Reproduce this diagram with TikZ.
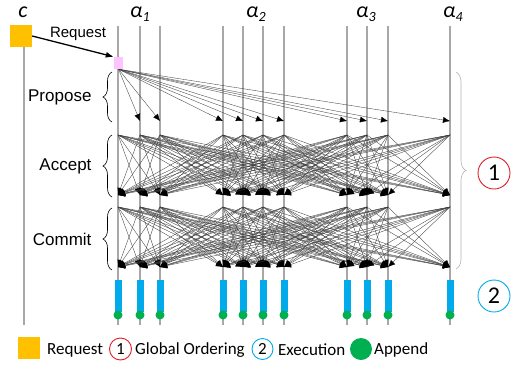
\documentclass[tikz,border=0pt]{standalone}
\usepackage{fontspec}
\setmainfont{Liberation Sans}
\newfontfamily\calib{Carlito}
\usetikzlibrary{arrows.meta,decorations.pathreplacing}
\definecolor{reqorange}{RGB}{255,192,0}
\definecolor{tlgray}{RGB}{172,167,167}
\definecolor{execblue}{RGB}{0,170,235}
\definecolor{appgreen}{RGB}{0,176,80}
\definecolor{ordred}{RGB}{225,30,40}
\definecolor{proppink}{RGB}{255,196,255}
\tikzset{
  timeline/.style={draw=tlgray,line width=2.6pt},
  msg/.style={draw=black!75,line width=0.35pt,-{Latex[length=7pt,width=6pt,black]}},
  execbar/.style={rectangle,fill=execblue,inner sep=0pt,minimum width=7pt,minimum height=32pt},
  appdot/.style={circle,fill=appgreen,inner sep=0pt,minimum size=9pt},
  phase/.style={anchor=east,font=\fontsize{17}{20}\selectfont},
  lbrace/.style={decorate,decoration={brace,amplitude=9pt},line width=0.6pt},
  stepcircle/.style={circle,draw,line width=0.9pt,inner sep=0pt},
  legtext/.style={anchor=west,inner sep=0pt,font=\calib\fontsize{17}{20}\selectfont}
}
\begin{document}
\begin{tikzpicture}[x=1pt,y=-1pt]
\useasboundingbox (0,0) rectangle (515,368);
\draw[timeline] (24,47) -- (24,325);
\foreach \x [count=\i] in {118,140,160,223,243,263,284,347,367,388,450} {
  \draw[timeline] (\x,26) -- (\x,325);
  \coordinate (p\i) at (\x,121);
  \coordinate (as\i) at (\x,135);
  \coordinate (ae\i) at (\x,195);
  \coordinate (cs\i) at (\x,207);
  \coordinate (ce\i) at (\x,267);
  \node[execbar] (x\i) at (\x,296) {};
  \node[appdot] (g\i) at (\x,315) {};
}
\node[font=\calib\fontsize{22}{24}\selectfont\itshape] (cl) at (23,12) {c};
\foreach \x/\n in {140/1,256/2,366/3,453/4}
  \node[font=\calib\itshape] (al\n) at (\x,14) {{\fontsize{22}{24}\selectfont α}\raisebox{-4pt}{\fontsize{14}{16}\selectfont\n}};
\node[rectangle,fill=reqorange,minimum size=22pt,inner sep=0pt] (req) at (21,36) {};
\node[rectangle,fill=proppink,minimum width=9pt,minimum height=12pt,inner sep=0pt] (prop) at (118.5,63) {};
\draw[line width=1.3pt,-{Latex[length=8pt,width=6pt]}] (req.east) -- (prop.north west);
\node[font=\fontsize{15}{18}\selectfont] (reqlab) at (78,34) {Request};
\foreach \j in {2,...,11}
  \draw[msg] (prop.south) -- (p\j);
\foreach \i in {1,...,11}
  \foreach \j in {1,...,11} {
    \ifnum\i=\j\else
      \draw[msg] (as\i) -- (ae\j);
      \draw[msg] (cs\i) -- (ce\j);
    \fi
  }
\draw[lbrace] (112,122) -- (112,72);
\draw[lbrace] (112,197) -- (112,135);
\draw[lbrace] (112,270) -- (112,208);
\node[phase] (propose) at (95,97) {Propose};
\node[phase] (accept) at (95,166) {Accept};
\node[phase] (commit) at (95,239) {Commit};
\draw[decorate,decoration={brace,amplitude=10pt},draw=black!30,line width=0.6pt] (456,72) -- (456,269);
\node[stepcircle,draw=ordred,minimum size=32pt,font=\calib\fontsize{24}{26}\selectfont] (one) at (494,173) {1};
\node[stepcircle,draw=execblue,minimum size=32pt,font=\calib\fontsize{24}{26}\selectfont] (two) at (494,296) {2};
\node[rectangle,fill=reqorange,minimum size=22pt,inner sep=0pt] (lgreq) at (29,348) {};
\node[legtext] (lgreqt) at (47,350) {Request};
\node[stepcircle,draw=ordred,minimum size=22pt,font=\calib\fontsize{17}{20}\selectfont] (lgone) at (120.5,349) {1};
\node[legtext] (lgonet) at (135,350) {Global Ordering};
\node[stepcircle,draw=execblue,minimum size=21pt,font=\calib\fontsize{17}{20}\selectfont] (lgtwo) at (262.5,349) {2};
\node[legtext] (lgtwot) at (278,350) {Execution};
\node[circle,fill=appgreen,inner sep=0pt,minimum size=22pt] (lgdot) at (361,349) {};
\node[legtext] (lgdott) at (374,350) {Append};
\end{tikzpicture}
\end{document}
